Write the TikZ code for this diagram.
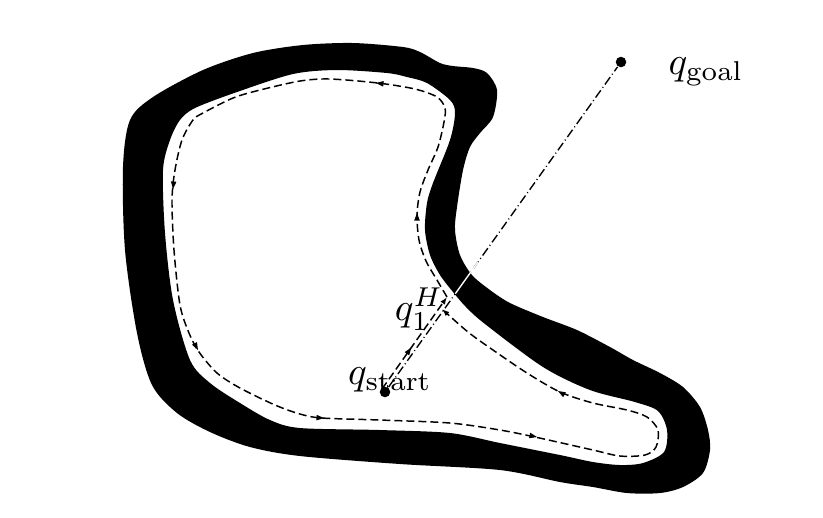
\documentclass[tikz,border=0pt]{standalone}
\usetikzlibrary{arrows.meta,calc}
\begin{document}
\begin{tikzpicture}[x=0.2565pt,y=-0.2565pt,
  pathline/.style={line width=0.38pt, dash pattern=on 2.05pt off 1.03pt},
  mline/.style={line width=0.35pt, dash pattern=on 2.3pt off 0.8pt on 0.25pt off 0.8pt},
  tipend/.style={-{Latex[length=1.9pt,width=1.4pt]}},
  dot/.style={circle,fill,inner sep=0pt,minimum size=2.7pt},
  lbl/.style={inner sep=0pt},
  ah/.pic={\fill (0,0) -- (-7.5,2.8) -- (-7.5,-2.8) -- cycle;}]
\useasboundingbox (0,0) rectangle (823,517);
% obstacle band
\fill[even odd rule]
  plot[smooth cycle] coordinates {(130,120) (153,97) (203,70) (253,53) (303,45) (353,43) (403,47) (420,52) (440,63) (453,66) (473,68) (487,73) (497,90) (493,117) (480,133) (470,147) (463,170) (457,207) (455,230) (460,255) (472,275) (490,290) (510,303) (543,317) (577,330) (610,347) (633,360) (660,373) (683,387) (700,407) (708,430) (710,450) (703,473) (683,487) (660,493) (627,493) (593,487) (560,482) (500,470) (400,464) (300,456) (250,447) (210,432) (177,413) (152,385) (137,333) (125,250) (123,167)}
  plot[smooth cycle] coordinates {(163,170) (170,140) (180,120) (195,108) (237,92) (293,74) (337,70) (387,73) (407,77) (427,83) (450,100) (455,113) (450,140) (433,183) (427,203) (425,230) (430,255) (440,275) (453,292) (466,307) (485,324) (543,367) (590,390) (635,402) (658,411) (667,430) (664,452) (643,463) (620,465) (593,462) (560,455) (500,443) (450,433) (380,430) (300,428) (270,420) (240,403) (210,383) (190,360) (173,300) (165,233)};
% nodes
\node[dot] (qs) at (385,392) {};
\node[dot] (qg) at (621,62) {};
\coordinate (h) at (447,297);
\coordinate (hs) at (382,389);
\coordinate (he) at (442,309);
\node[lbl] (lqs) at (390,380) {$q_{\mathrm{start}}$};
\node[lbl] (lqg) at (706,72) {$q_{\mathrm{goal}}$};
\node[lbl] (lh) at (419,309) {$q_1^H$};
% m-line
\draw[mline] (qs) -- (qg);
\draw[white, line width=0.35pt] ($(qs)!0.298!(qg)$) -- ($(qs)!0.395!(qg)$);
% path from start to hit point
\draw[pathline, tipend] (hs) -- (h);
\pic[rotate=54.7] at ($(hs)!0.45!(h)$) {ah};
% boundary following path
\draw[pathline, tipend]
  plot[smooth] coordinates {(h) (437,280) (426,261) (419,240) (417,215) (420,192) (428,170) (438,147) (444,122) (445,108) (437,97) (415,89) (378,83) (330,79) (300,81) (260,90) (233,98) (203,113) (193,120) (182,140) (175,170) (172,200) (174,250) (180,305) (189,333) (199,352) (217,373) (240,388) (275,405) (300,414) (322,418) (380,420) (450,423) (500,430) (535,437) (593,450) (620,456) (645,455) (656,447) (658,430) (647,417) (627,410) (593,403) (560,392) (527,373) (493,350) (468,332) (he)};
\pic[rotate=90] at (417,213) {ah};
\pic[rotate=174] at (376,83) {ah};
\pic[rotate=265] at (173,189) {ah};
\pic[rotate=-62] at (198,350) {ah};
\pic[rotate=-3] at (324,418) {ah};
\pic[rotate=-12] at (537,437) {ah};
\pic[rotate=150] at (558,391) {ah};
\end{tikzpicture}
\end{document}
